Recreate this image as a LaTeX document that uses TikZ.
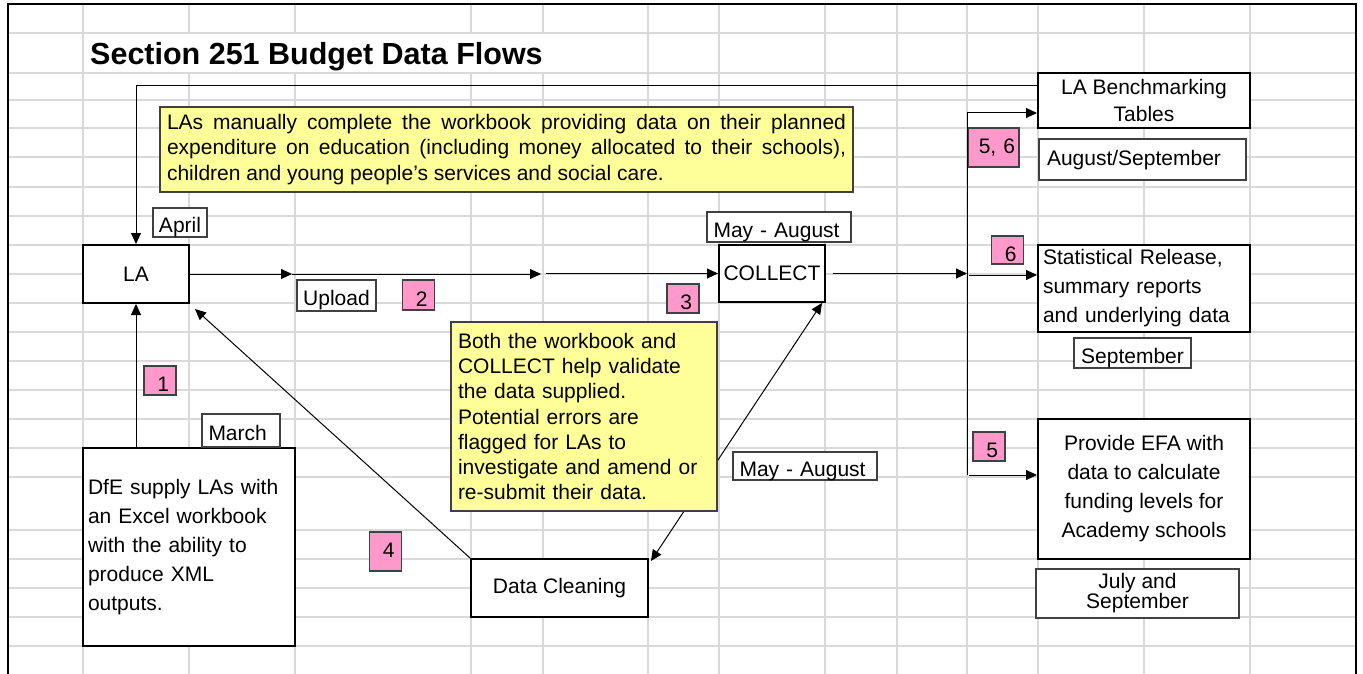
\documentclass[tikz,border=0pt]{standalone}
\usepackage{fontspec}
\setmainfont{Liberation Sans}
\usetikzlibrary{arrows.meta, positioning}

\definecolor{gridgray}{RGB}{217,217,217}
\definecolor{notefill}{RGB}{255,255,153}
\definecolor{numfill}{RGB}{255,153,204}
\definecolor{edgegray}{RGB}{64,64,64}

\tikzset{
  sheetline/.style={gridgray, line width=1.3pt},
  box/.style={draw, line width=2pt, fill=white, inner sep=0pt, align=center,
    font={\fontsize{21}{29}\selectfont}},
  thinbox/.style={draw=edgegray, line width=1.2pt, fill=white, inner sep=0pt,
    font={\fontsize{21}{25}\selectfont}},
  tag/.style={thinbox, text height=20pt, text depth=0pt},
  num/.style={draw=edgegray, line width=1.2pt, fill=numfill, inner xsep=7pt, inner ysep=0pt,
    text width=18pt, align=right, text height=22pt, text depth=0pt,
    font={\fontsize{21}{25}\selectfont}},
  note/.style={draw=edgegray, line width=1.2pt, fill=notefill, inner xsep=7pt, inner ysep=0pt,
    font={\fontsize{21}{25.3}\selectfont\hyphenpenalty=10000}},
  flow/.style={->, line width=1pt},
}

\begin{document}
\begin{tikzpicture}[x=1pt, y=-1pt, >={Triangle[length=11pt, width=10pt]}]

   \useasboundingbox (0,0) rectangle (1363,674);

   % worksheet grid
   \foreach \gx in {83,189,295,471,543,648,719,825,897,967,1038,1144,1250}
      \draw[sheetline] (\gx,4) -- (\gx,674);
   \foreach \gy in {33,73,100,128,157,187,216,245,274,303,332,361,390,419,448,477,530,559,588,617,646}
      \draw[sheetline] (8,\gy) -- (1356,\gy);
   \fill[white] (84,34) rectangle (647,72);
   \draw[line width=2.5pt] (8,674) -- (8,4) -- (1356,4) -- (1356,674);

   \node[anchor=base west, inner sep=0pt, font={\fontsize{30.5}{36}\selectfont\bfseries}] (title) at (90,65) {Section 251 Budget Data Flows};

   % main boxes
   \node[box, minimum width=106pt, minimum height=58pt] (LA) at (136,274) {LA};
   \node[box, minimum width=106pt, minimum height=57pt] (collect) at (772,273.5) {COLLECT};
   \node[box, minimum width=177pt, minimum height=58pt] (clean) at (559.5,588) {Data Cleaning};
   \node[box, minimum width=212pt, minimum height=198pt, text width=202pt, align=left] (dfe) at (189,547)
      {DfE supply LAs with\\ an Excel workbook\\ with the ability to\\ produce XML\\ outputs.};
   \node[box, minimum width=212pt, minimum height=55pt, font={\fontsize{21}{27}\selectfont}] (bench) at (1144,100.5)
      {LA Benchmarking\\ Tables};
   \node[box, minimum width=212pt, minimum height=87pt, text width=202pt, align=left] (stat) at (1144,288.5)
      {Statistical Release,\\ summary reports\\ and underlying data};
   \node[box, minimum width=212pt, minimum height=140pt] (efa) at (1144,489)
      {Provide EFA with\\ data to calculate\\ funding levels for\\ Academy schools};

   % dates and captions
   \node[tag, minimum width=54pt, minimum height=29pt] (april) at (180,222.5) {April};
   \node[tag, minimum width=79pt, minimum height=31pt] (upload) at (336.5,295.5) {Upload};
   \node[tag, minimum width=78pt, minimum height=33pt, text width=65pt, align=left] (march) at (241,430.5) {March};
   \node[tag, minimum width=144pt, minimum height=30pt, text width=131pt, align=left] (mayaug) at (779,227) {May - August};
   \node[tag, minimum width=144pt, minimum height=28pt, text width=131pt, align=left] (cleanaug) at (805,466) {May - August};
   \node[tag, minimum width=117pt, minimum height=30pt] (sept) at (1132.5,353) {September};
   \node[tag, minimum width=207pt, minimum height=41pt, text width=191pt, align=left, text depth=9pt] (augsep) at (1142.5,159.5) {August/September};
   \node[thinbox, minimum width=203pt, minimum height=49pt, align=center,
      font={\fontsize{21}{20}\selectfont\lineskiplimit=-30pt}] (julysep) at (1137.5,593.5) {July and\\ September};

   % step numbers
   \node[num, minimum height=29pt] (n1) at (160,380.5) {1};
   \node[num, minimum height=30pt] (n2) at (418.5,295) {2};
   \node[num, minimum height=29pt] (n3) at (683,298.5) {3};
   \node[num, minimum height=39pt, text depth=10pt] (n4) at (385.5,551.5) {4};
   \node[num, minimum height=29pt] (n5) at (989,446.5) {5};
   \node[num, minimum height=28pt] (n6) at (1007.5,250) {6};
   \node[num, minimum height=39pt, text depth=10pt, text width=43pt, inner xsep=4pt] (n56) at (993.5,147.5) {5, 6};

   \node[note, minimum height=85pt, text width=679pt, align=justify] (note1) at (506.5,149.5)
      {LAs manually complete the workbook providing data on their planned expenditure on education (including money allocated to their schools), children and young people's services and social care.};

   \coordinate (up1) at (292,274);
   \coordinate (up2) at (541,274);
   \coordinate (up3) at (546,273.5);
   \coordinate (fork) at (967,273.5);
   \coordinate (forktop) at (967,113);
   \coordinate (forkmid) at (969,275);
   \coordinate (forkbot) at (967,475);

   \draw[flow] (dfe.north -| LA.south) -- (LA.south);
   \draw[flow] (LA.east) -- (up1);
   \draw[flow] (up1) -- (up2);
   \draw[flow] (up3) -- (collect.west);
   \draw[flow] ([xshift=7pt]collect.east) -- (fork);
   \draw[flow] (forkbot) -- (forktop) -- (forktop -| bench.west);
   \draw[flow] (forkmid) -- (forkmid -| stat.west);
   \draw[flow] ([xshift=2pt]forkbot) -- (forkbot -| efa.west);
   \draw[flow] ([yshift=14.5pt]bench.west) -| (LA.north);
   \draw[flow] (clean.north west) -- ([shift={(5pt,-5pt)}]LA.south east);
   \draw[flow, <->] ([shift={(2pt,-3pt)}]clean.north east) -- ([xshift=-4pt]collect.south east);

   % note drawn last, over the cleaning link
   \node[note, minimum width=266pt, minimum height=189pt, text width=252pt, align=left] (note2) at (584,416.5)
      {Both the workbook and\\ COLLECT help validate\\ the data supplied.\\ Potential errors are\\ flagged for LAs to\\ investigate and amend or\\ re-submit their data.};

\end{tikzpicture}
\end{document}
